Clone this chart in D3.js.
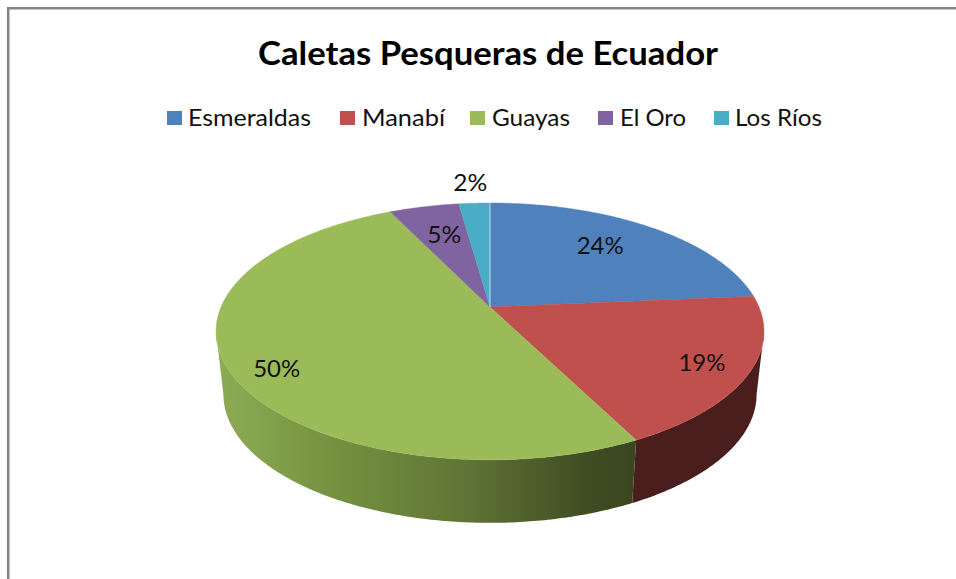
<!DOCTYPE html>
<html><head><meta charset="utf-8">
<script src="https://cdnjs.cloudflare.com/ajax/libs/d3/7.8.5/d3.min.js"></script>
<style>html,body{margin:0;padding:0;background:#fff;overflow:hidden}svg{display:block}text{font-family:Lato,"Open Sans",sans-serif;fill:#111}</style>
</head><body><svg id="c" width="956" height="579"></svg>
<script>
const categories = ["Esmeraldas","Manabí","Guayas","El Oro","Los Ríos"];
const values = [23.6,18.95,50.3,4.95,2.2];
const colors = ["#4f81bd","#c0504d","#9bbb59","#8064a2","#4bacc6"];
const title = "Caletas Pesqueras de Ecuador";

const svg = d3.select("#c");
const labelRadius = [0.71,0.835,0.855,0.69,1.25];
const labelTurn = [-2.9,0.5,-5.8,0.7,-0.2];

// perspective projection of a unit disc, apex at (cx, cy)
const cx=490, cy=307, bx=269, by=123.8, persp=0.19, depth=63, shrink=0.973;
const project=(a,r,low)=>{
  const x=Math.sin(a)*r, y=-Math.cos(a)*r, w=1-persp*y;
  return [cx+bx*x/w*(low?shrink:1), cy+by*y/w+(low?depth:0)];
};
const pie=d3.pie().sort(null).value(d=>d)(values);
const colour=d3.scaleOrdinal(categories,colors);
const line=d3.line();
const arcPts=(a0,a1,low)=>{
  const n=Math.max(2,Math.ceil(Math.abs(a1-a0)*90));
  return d3.range(n+1).map(i=>project(a0+(a1-a0)*i/n,1,low));
};
const defs=svg.append("defs");
const grad=defs.append("linearGradient").attr("id","gs").attr("gradientUnits","userSpaceOnUse")
  .attr("x1",216).attr("x2",636).attr("y1",0).attr("y2",0);
[[0,"#8eab54"],[0.3,"#74903f"],[0.6,"#5f7436"],[0.88,"#404d22"],[1,"#3b4620"]].forEach(s=>grad.append("stop").attr("offset",s[0]).attr("stop-color",s[1]));

// frame
svg.append("path").attr("d","M8.2,579V8.2H956").attr("fill","none").attr("stroke","#868686").attr("stroke-width",2.6);

// visible side walls: the front rim between the two silhouette tangents
const tangent=Math.asin(persp);
const rimStart=Math.PI/2+tangent, rimEnd=3*Math.PI/2-tangent;
const sideFill=[null,"#4b1e1e","url(#gs)",null,null];
pie.forEach((d,i)=>{
  if(!sideFill[i])return;
  const a0=Math.max(d.startAngle,rimStart), a1=Math.min(d.endAngle,rimEnd);
  svg.append("path").attr("fill",sideFill[i])
    .attr("d",line([...arcPts(a0,a1,false),...arcPts(a1,a0,true)])+"Z");
});
// top surface
pie.forEach((d,i)=>{
  svg.append("path").attr("fill",colour(categories[i])).attr("stroke",colour(categories[i])).attr("stroke-width",0.4)
    .attr("d",line([[cx,cy],...arcPts(d.startAngle,d.endAngle,false)])+"Z");
});
// pale seam at 12 o'clock
svg.append("path").attr("stroke","#c9d6ea").attr("stroke-width",1).attr("d",line([[cx,cy],project(0,1,false)]));

// labels
pie.forEach((d,i)=>{
  const a=(d.startAngle+d.endAngle)/2+labelTurn[i]*Math.PI/180;
  const p=project(a,labelRadius[i],false);
  svg.append("text").attr("x",p[0]).attr("y",p[1]).attr("dy","0.35em").attr("text-anchor","middle")
    .attr("font-size",24).attr("lengthAdjust","spacingAndGlyphs")
    .attr("textLength",values[i]<10?34:47).text(Math.round(values[i])+"%");
});

// title
svg.append("text").attr("x",488).attr("y",65).attr("text-anchor","middle").attr("font-size",33).attr("font-weight",700)
  .style("fill","#000").attr("textLength",460).attr("lengthAdjust","spacingAndGlyphs").text(title);

// legend
const swatchLeft=[167,340,470,598,714], textLeft=[188,362,492,620,735], textW=[123,83,78,66,87];
categories.forEach((c,i)=>{
  svg.append("rect").attr("x",swatchLeft[i]).attr("y",111).attr("width",15).attr("height",14).attr("fill",colour(c));
  svg.append("text").attr("x",textLeft[i]).attr("y",126).attr("font-size",24)
    .attr("textLength",textW[i]).attr("lengthAdjust","spacingAndGlyphs").text(c);
});
</script></body></html>
